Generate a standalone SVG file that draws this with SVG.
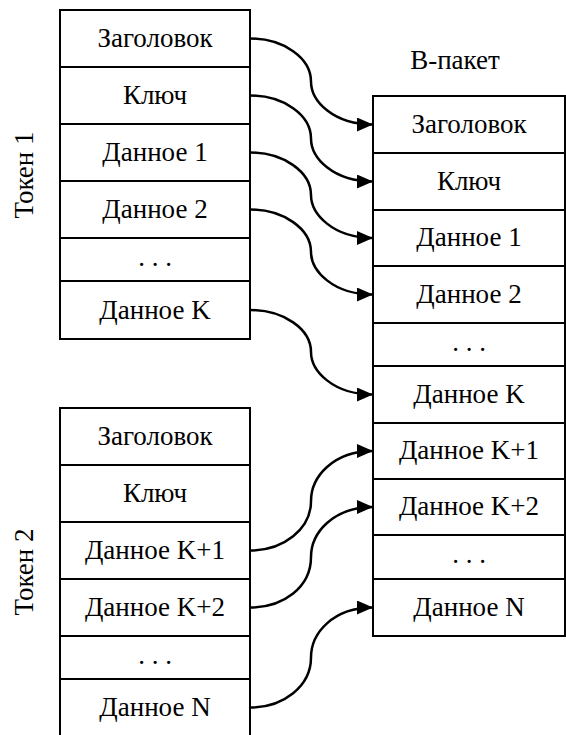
<svg xmlns="http://www.w3.org/2000/svg" width="566" height="735" viewBox="0 0 566 735">
<defs>
<marker id="arr" markerWidth="16" markerHeight="14" refX="16" refY="7" orient="auto" markerUnits="userSpaceOnUse">
<path d="M0,0 L16,7 L0,14 Z" fill="#000"/>
</marker>
<style>
.box{fill:#fff;stroke:#000;stroke-width:2}
.c{fill:none;stroke:#000;stroke-width:2.5;marker-end:url(#arr)}
text{font-family:"Liberation Serif","Times New Roman",serif;font-size:27px;text-anchor:middle;fill:#000}
</style>
</defs>
<rect width="566" height="735" fill="#fff"/>
<g id="token1">
<rect class="box" x="60" y="10" width="190" height="57"/>
<text x="155" y="47">Заголовок</text>
<rect class="box" x="60" y="67" width="190" height="57"/>
<text x="155" y="104">Ключ</text>
<rect class="box" x="60" y="124" width="190" height="57"/>
<text x="155" y="161">Данное 1</text>
<rect class="box" x="60" y="181" width="190" height="57"/>
<text x="155" y="218">Данное 2</text>
<rect class="box" x="60" y="238" width="190" height="43"/>
<text x="155" y="266">. . .</text>
<rect class="box" x="60" y="281" width="190" height="58"/>
<text x="155" y="319">Данное K</text>
<text transform="translate(33,175) rotate(-90)" x="0" y="0">Токен 1</text>
</g>
<g id="token2">
<rect class="box" x="60" y="408" width="190" height="57"/>
<text x="155" y="445">Заголовок</text>
<rect class="box" x="60" y="465" width="190" height="57"/>
<text x="155" y="502">Ключ</text>
<rect class="box" x="60" y="522" width="190" height="57"/>
<text x="155" y="559">Данное K+1</text>
<rect class="box" x="60" y="579" width="190" height="57"/>
<text x="155" y="616">Данное K+2</text>
<rect class="box" x="60" y="636" width="190" height="43"/>
<text x="155" y="664">. . .</text>
<rect class="box" x="60" y="679" width="190" height="58"/>
<text x="155" y="716">Данное N</text>
<text transform="translate(33,572) rotate(-90)" x="0" y="0">Токен 2</text>
</g>
<g id="bpacket">
<text x="455" y="69">В-пакет</text>
<rect class="box" x="373" y="96" width="192" height="57"/>
<text x="469" y="133">Заголовок</text>
<rect class="box" x="373" y="153" width="192" height="57"/>
<text x="469" y="190">Ключ</text>
<rect class="box" x="373" y="210" width="192" height="56"/>
<text x="469" y="246">Данное 1</text>
<rect class="box" x="373" y="266" width="192" height="57"/>
<text x="469" y="303">Данное 2</text>
<rect class="box" x="373" y="323" width="192" height="43"/>
<text x="469" y="351">. . .</text>
<rect class="box" x="373" y="366" width="192" height="57"/>
<text x="469" y="403">Данное K</text>
<rect class="box" x="373" y="423" width="192" height="56"/>
<text x="469" y="459">Данное K+1</text>
<rect class="box" x="373" y="479" width="192" height="56"/>
<text x="469" y="515">Данное K+2</text>
<rect class="box" x="373" y="535" width="192" height="44"/>
<text x="469" y="563">. . .</text>
<rect class="box" x="373" y="579" width="192" height="57"/>
<text x="469" y="616">Данное N</text>
</g>
<g id="connectors">
<path class="c" d="M250,38.5 C283.7,38.5 311,58 311,81.5 C311,101 333,124.5 373,124.5"/>
<path class="c" d="M250,95.5 C283.7,95.5 311,115 311,138.5 C311,158 333,181.5 373,181.5"/>
<path class="c" d="M250,152.5 C283.7,152.5 311,172 311,195 C311,214 333,238 373,238"/>
<path class="c" d="M250,209.5 C283.7,209.5 311,229 311,252 C311,271 333,294.5 373,294.5"/>
<path class="c" d="M250,310 C283.7,310 311,329 311,352 C311,371 333,394.5 373,394.5"/>
<path class="c" d="M250,550.5 C283.7,550.5 311,529 311,501 C311,477 333,451 373,451"/>
<path class="c" d="M250,607.5 C283.7,607.5 311,587 311,557 C311,533 333,507 373,507"/>
<path class="c" d="M250,707.5 C283.7,707.5 311,686 311,657.5 C311,633 333,607.5 373,607.5"/>
</g>
</svg>
